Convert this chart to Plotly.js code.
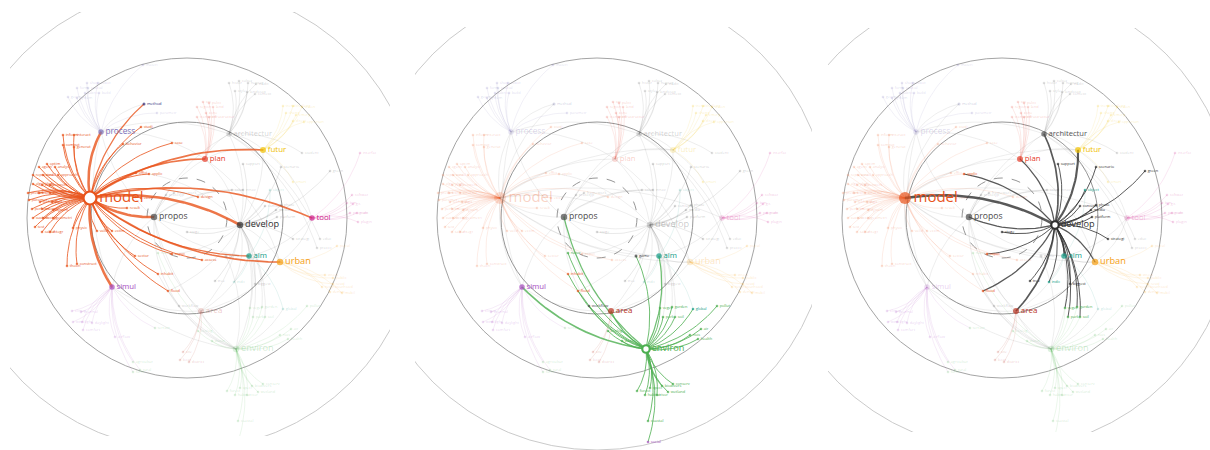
<!DOCTYPE html>
<html><head><meta charset="utf-8">
<script src="https://cdn.plot.ly/plotly-3.0.1.min.js"></script>
<style>html,body{margin:0;padding:0;background:#fff}#chart{width:1210px;height:450px}</style>
</head><body><div id="chart"></div>
<script>
// ---------------- DATA ----------------
const hubLabel = ['model','process','architectur','futur','plan','propos','develop','tool','aim','urban','simul','environ','area','method','game'];
const hubX = [90,101,229,263,205,154,240,312,249,280,112,236,201,144,226];
const hubY = [198,132,134,150,159,217,225,218,256,262,287,349,311,104,256];

const modelLeafLabel = ['inform','interact','comput','generat','optim','agent','analysi','represent','visual','approach','algorithm','evalu','network','predict','learn','structur','paramet','techniqu','digit','perform','energi','dynam','sustain','occup','geometri','test','calcul','integr','physic','theori','construct','studi','behavior','case','effici','applic','design','exist','result','valid','estim','sector','capac','assess','inhabit','flood'];
const modelLeafX = [63,74,63,74,47,39,55,33,43,58,33,42,50,28,39,50,29,40,52,32,42,53,33,43,53,35,42,50,73,67,77,141,123,172,136,149,198,141,127,97,112,135,172,202,158,168];
const modelLeafY = [135,135,145,147,164,167,167,175,175,175,184,185,185,193,193,193,200,202,202,209,209,210,218,218,218,227,232,232,228,266,264,127,144,143,173,174,197,198,208,231,231,256,254,260,274,291];

const processLeafLabel = ['materi','shape','robot','form','spatial','build','geometr','system','fabric','parametr'];
const processLeafX = [143,87,98,77,88,99,68,77,85,157];
const processLeafY = [65,83,83,88,88,93,97,98,93,113];

const architecturLeafLabel = ['histor','cultur','heritag','tradit','style','landscap','context','student','educ','practic'];
const architecturLeafX = [229,239,248,256,235,247,255,302,320,317];
const architecturLeafY = [83,81,83,84,91,92,94,153,239,248];

const planLeafLabel = ['citi','polici','region','land','zone','transport','infrastructur'];
const planLeafX = [203,209,197,213,206,197,209];
const planLeafY = [102,103,107,107,113,117,117];

const futurLeafLabel = ['trend','challeng','vision','chang','emerg','direct','opportun','smart'];
const futurLeafX = [283,293,302,286,296,293,304,293];
const futurLeafY = [106,106,107,113,115,121,122,182];

const urbanLeafLabel = ['street','public','resid','neighbourhood','densiti','mobil','popul'];
const urbanLeafX = [325,333,333,322,330,342,337];
const urbanLeafY = [275,278,284,287,292,293,246];

const toolLeafLabel = ['softwar','bim','gis','program','code','plugin','interfac'];
const toolLeafX = [352,347,353,350,357,358,360];
const toolLeafY = [195,203,204,213,213,222,153];

const simulLeafLabel = ['climat','thermal','wind','light','daylight','comfort','airflow'];
const simulLeafX = [72,81,73,82,92,83,115];
const simulLeafY = [311,312,322,322,323,330,337];

const environLeafLabel = ['natur','ecolog','water','veget','garden','park','soil','pollut','air','nois','health','forest','habitat','speci','biodivers','conserv','wetland','river','coastal'];
const environLeafX = [158,198,212,250,262,253,265,307,291,280,288,227,235,240,252,263,258,247,238];
const environLeafY = [253,331,341,308,307,317,317,306,329,335,339,391,395,388,386,384,392,395,421];

const ruralLeafLabel = ['agricultur','rural','farm','terrain'];
const ruralLeafX = [133,140,133,155];
const ruralLeafY = [362,370,372,328];

const developLeafLabel = ['support','scenario','green','concept','photo','media','platform','stage','strategi','tree','biggest'];
const developLeafX = [243,281,330,265,281,276,277,187,293,215,255];
const developLeafY = [164,167,171,206,205,210,217,232,239,281,284];

const aimLeafLabel = ['object','indic','global'];
const aimLeafX = [270,234,283];
const aimLeafY = [190,282,309];

const areaLeafLabel = ['site','locat','district'];
const areaLeafX = [183,180,189];
const areaLeafY = [352,360,362];

const proposLeafLabel = ['workflow','prototyp','framework','solut','innov'];
const proposLeafX = [179,166,174,232,243];
const proposLeafY = [306,195,193,190,190];

const socialLabel = ['social'];
const socialX = [238];
const socialY = [442];

const extraFrom = ['model','model','model','model','model','model','model','model','model','model','process',
  'environ','environ','environ','environ','environ','environ','environ','environ','environ',
  'develop','develop','develop','develop','develop','develop','develop','develop','develop','develop','develop','develop','develop','develop','develop','develop',
  'process','process','architectur','architectur','plan','futur','tool','aim','simul','area','propos','propos','aim','architectur','process','simul','tool','plan','urban','process'];
const extraTo = ['process','method','plan','futur','propos','develop','tool','urban','aim','simul','method',
  'simul','propos','aim','game','area','inhabit','flood','workflow','global',
  'architectur','futur','plan','object','applic','propos','aim','urban','capac','flood','indic','area','veget','garden','park','soil',
  'architectur','plan','futur','plan','futur','tool','urban','urban','area','propos','aim','plan','area','propos','propos','propos','aim','urban','area','simul'];
const extraWeight = [3,1.5,2,2,3,3,2,2,1.5,3,1,
  2,1.5,1.5,1,1.5,1,1,1,1,
  2,2.5,1.5,1,1.5,1.5,1.5,1.5,1,1.5,1,2,1,1,1,1,
  1,1,1,1,1,1,1,1,1,1,1,1,1,1,1,1,1,1,1,1];

const panelFocus = ['model','environ','develop'];

// ---------------- STYLE ----------------
const GROUP_COLOR = {model:'#e8541c', process:'#7b70b8', method:'#2e2e7e', architectur:'#555555', futur:'#f0c000',
  plan:'#e63a28', propos:'#4a4a4a', develop:'#2f2f2f', tool:'#cc1b8a', aim:'#129b86', urban:'#f59e12',
  simul:'#a64dbf', environ:'#4caf50', area:'#b8321f', game:'#333333'};
const HUB_STYLE = {model:[12,15], process:[5.5,8.2], architectur:[5.5,7.6], futur:[6,8], plan:[6,7.8], propos:[6.5,8.6],
  develop:[6.5,9.2], tool:[5.5,7.8], aim:[5.5,7.8], urban:[6.5,9.2], simul:[5.5,7.8], environ:[6.5,9.2], area:[6,8], method:[3,4], game:[3,4]};
const LEAF_SIZE = 2.6, LEAF_FONT = 3.9;
const PANEL_OFFSET = [0,410,815];
const PANEL_CLIP = [[10,390,12,436],[5,402,27,450],[13,395,28,432]];
const CX = 187, CY = 218;
const RINGS = [[232,'#c4c4c4',0.9,'solid'],[160,'#9a9a9a',0.9,'solid'],[96,'#8a8a8a',0.9,'solid'],[40,'#8a8a8a',0.9,'dash']];
const W = 1210, H = 450, K = 0.17, FADE = 0.27;
const FONT = 'Segoe UI, Open Sans, Noto Sans, sans-serif';

// ---------------- BUILD GRAPH ----------------
const nodes = [];
const byLabel = {};
function addNode(label,x,y,group,hub){ const n={label,x,y,group,hub,hubNode:!hub}; nodes.push(n); byLabel[label]=n; }
hubLabel.forEach((l,i)=>addNode(l,hubX[i],hubY[i],l,null));
const leafSets = [
  [modelLeafLabel,modelLeafX,modelLeafY,'model','model'],
  [processLeafLabel,processLeafX,processLeafY,'process','process'],
  [architecturLeafLabel,architecturLeafX,architecturLeafY,'architectur','architectur'],
  [planLeafLabel,planLeafX,planLeafY,'plan','plan'],
  [futurLeafLabel,futurLeafX,futurLeafY,'futur','futur'],
  [urbanLeafLabel,urbanLeafX,urbanLeafY,'urban','urban'],
  [toolLeafLabel,toolLeafX,toolLeafY,'tool','tool'],
  [simulLeafLabel,simulLeafX,simulLeafY,'simul','simul'],
  [environLeafLabel,environLeafX,environLeafY,'environ','environ'],
  [ruralLeafLabel,ruralLeafX,ruralLeafY,'environ','simul'],
  [developLeafLabel,developLeafX,developLeafY,'develop','develop'],
  [aimLeafLabel,aimLeafX,aimLeafY,'aim','aim'],
  [areaLeafLabel,areaLeafX,areaLeafY,'area','area'],
  [proposLeafLabel,proposLeafX,proposLeafY,'propos','propos'],
  [socialLabel,socialX,socialY,'simul','environ']
];
leafSets.forEach(([L,X,Y,g,h])=>L.forEach((l,i)=>addNode(l,X[i],Y[i],g,h)));
const edges = [];
nodes.forEach(n=>{ if(n.hub) edges.push({a:byLabel[n.hub], b:n, w:1, hubEdge:false}); });
extraFrom.forEach((f,i)=>edges.push({a:byLabel[f], b:byLabel[extraTo[i]], w:extraWeight[i], hubEdge:true}));

function hexA(hex,a){ const v=parseInt(hex.slice(1),16); return `rgba(${v>>16&255},${v>>8&255},${v&255},${a})`; }
function curvePts(a,b){
  const mx=(a.x+b.x)/2, my=(a.y+b.y)/2, dx=b.x-a.x, dy=b.y-a.y, L=Math.hypot(dx,dy)||1;
  let nx=-dy/L, ny=dx/L;
  if((mx-CX)*nx+(my-CY)*ny<0){nx=-nx;ny=-ny;}
  const cx=mx+nx*L*K, cy=my+ny*L*K, xs=[], ys=[];
  for(let s=0;s<=18;s++){const t=s/18,u=1-t; xs.push(u*u*a.x+2*u*t*cx+t*t*b.x); ys.push(u*u*a.y+2*u*t*cy+t*t*b.y);}
  return [xs,ys];
}

const traces = [], layout = {width:W,height:H,margin:{l:0,r:0,t:0,b:0},paper_bgcolor:'#fff',plot_bgcolor:'rgba(0,0,0,0)',showlegend:false,shapes:[]};

panelFocus.forEach((focus,p)=>{
  const sx = p? String(p+1):'';
  const xa='x'+sx, ya='y'+sx;
  const [L,R,T,B] = PANEL_CLIP[p], off = PANEL_OFFSET[p];
  layout['xaxis'+sx] = {domain:[(off+L)/W,(off+R)/W], range:[L,R], visible:false, fixedrange:true};
  layout['yaxis'+sx] = {domain:[1-B/H,1-T/H], range:[B,T], visible:false, fixedrange:true};
  RINGS.forEach(([r,c,w,d])=>layout.shapes.push({type:'circle',xref:xa,yref:ya,layer:'below',x0:CX-r,x1:CX+r,y0:CY-r,y1:CY+r,line:{color:c,width:w,dash:d}}));

  const fNode = byLabel[focus];
  const bright = new Set([fNode]);
  edges.forEach(e=>{ if(e.a===fNode) bright.add(e.b); if(e.b===fNode) bright.add(e.a); });

  const bg = {};
  edges.forEach(e=>{
    if(e.a===fNode||e.b===fNode) return;
    const col = e.hubEdge ? 'rgba(120,120,120,0.22)' : hexA(GROUP_COLOR[e.a.group],0.18);
    if(!bg[col]) bg[col]={x:[],y:[]};
    const [xs,ys]=curvePts(e.a,e.b); bg[col].x.push(...xs,null); bg[col].y.push(...ys,null);
  });
  Object.keys(bg).forEach(col=>traces.push({type:'scatter',mode:'lines',xaxis:xa,yaxis:ya,x:bg[col].x,y:bg[col].y,line:{color:col,width:0.6},hoverinfo:'skip'}));

  const fc = GROUP_COLOR[focus];
  const fg = {};
  edges.forEach(e=>{
    if(!(e.a===fNode||e.b===fNode)) return;
    const k=e.w; if(!fg[k]) fg[k]={x:[],y:[]};
    const [xs,ys]=curvePts(e.a,e.b); fg[k].x.push(...xs,null); fg[k].y.push(...ys,null);
  });
  Object.keys(fg).forEach(k=>traces.push({type:'scatter',mode:'lines',xaxis:xa,yaxis:ya,x:fg[k].x,y:fg[k].y,line:{color:hexA(fc,0.8),width:+k===1?1:+k*0.85},hoverinfo:'skip'}));

  [false,true].forEach(isBright=>{
    const list = nodes.filter(n=>n!==fNode && bright.has(n)===isBright);
    const a = isBright?1:FADE;
    traces.push({type:'scatter',mode:'markers+text',xaxis:xa,yaxis:ya,
      x:list.map(n=>n.x), y:list.map(n=>n.y), text:list.map(n=>n.label), textposition:'middle right',
      marker:{size:list.map(n=>n.hubNode?HUB_STYLE[n.label][0]:LEAF_SIZE), color:list.map(n=>hexA(GROUP_COLOR[n.group],a)), line:{width:0}},
      textfont:{family:FONT,size:list.map(n=>n.hubNode?HUB_STYLE[n.label][1]:LEAF_FONT), color:list.map(n=>hexA(GROUP_COLOR[n.group],a))},
      hoverinfo:'skip', cliponaxis:true});
  });
  traces.push({type:'scatter',mode:'markers+text',xaxis:xa,yaxis:ya,x:[fNode.x],y:[fNode.y],text:[fNode.label],textposition:'middle right',
    marker:{size:HUB_STYLE[focus][0]+1,color:'#ffffff',line:{color:fc,width:2.2}},
    textfont:{family:FONT,size:HUB_STYLE[focus][1],color:fc},hoverinfo:'skip'});
});

Plotly.newPlot('chart', traces, layout, {staticPlot:true, displayModeBar:false});
</script></body></html>
